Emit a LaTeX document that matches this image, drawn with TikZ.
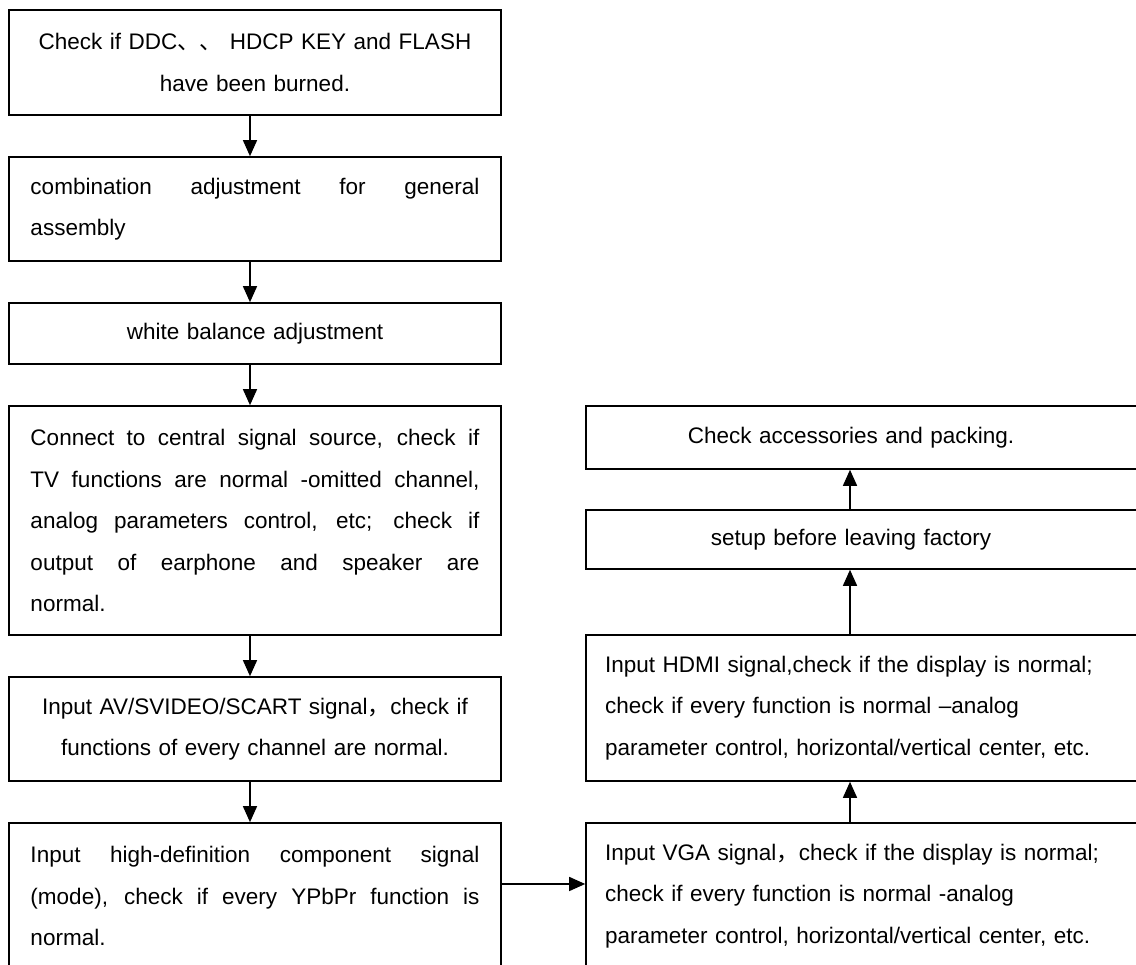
\documentclass[tikz,border=0pt]{standalone}
\usepackage{fontspec}
\setmainfont{Liberation Sans}
\newfontfamily\cjk{Noto Sans CJK SC}
\usetikzlibrary{arrows.meta}
\tikzset{
  txt/.style={font={\fontsize{22.5pt}{41.5pt}\selectfont\tolerance=10000\hbadness=10000\hyphenpenalty=10000\exhyphenpenalty=10000}},
  lbox/.style={txt, draw, line width=1.6pt, text width=449pt, inner xsep=21.5pt, inner ysep=0pt, align=justify},
  rbox/.style={txt, draw, line width=1.6pt, text width=520pt, inner xsep=19pt, inner ysep=0pt, align=left},
  arr/.style={line width=1.4pt, -{Triangle[length=16pt,width=14pt]}}
}
\begin{document}
\begin{tikzpicture}[x=1pt,y=1pt]
\useasboundingbox (0,0) rectangle (1136,965);
\clip (0,0) rectangle (1136,965);
% left column
\node[lbox, align=center, minimum height=105pt] (b1) at (255,902.5)
  {Check if DDC{\cjk 、、} HDCP KEY and FLASH\\have been burned.};
\node[lbox, minimum height=104pt] (b2) at (255,756)
  {combination adjustment for general\linebreak assembly};
\node[lbox, align=center, minimum height=61pt] (b3) at (255,631.5)
  {white balance adjustment};
\node[lbox, minimum height=229pt] (b4) at (255,444.5)
  {Connect to central signal source, check if\linebreak TV functions are normal -omitted channel,\linebreak analog parameters control, etc; check if\linebreak output of earphone and speaker are\linebreak normal.};
\node[lbox, align=center, minimum height=104pt] (b5) at (255,236)
  {Input AV/SVIDEO/SCART signal{\cjk ，}check if\\functions of every channel are normal.};
\node[lbox, minimum height=146pt] (b6) at (255,69)
  {Input high-definition component signal\linebreak (mode), check if every YPbPr function is\linebreak normal.};
% right column
\node[rbox, minimum height=63pt] (r1) at (865,527.5)
  {\makebox[492pt][c]{Check accessories and packing.}};
\node[rbox, minimum height=59pt] (r2) at (865,425.5)
  {\makebox[492pt][c]{setup before leaving factory}};
\node[rbox, minimum height=146pt] (r3) at (865,257)
  {Input HDMI signal,check if the display is normal;\\check if every function is normal --analog\\parameter control, horizontal/vertical center, etc.};
\node[rbox, minimum height=146pt] (r4) at (865,69)
  {Input VGA signal{\cjk ，}check if the display is normal;\\check if every function is normal -analog\\parameter control, horizontal/vertical center, etc.};
% connectors
\draw[arr] ([xshift=-5pt]b1.south) -- ([xshift=-5pt]b2.north);
\draw[arr] ([xshift=-5pt]b2.south) -- ([xshift=-5pt]b3.north);
\draw[arr] ([xshift=-5pt]b3.south) -- ([xshift=-5pt]b4.north);
\draw[arr] ([xshift=-5pt]b4.south) -- ([xshift=-5pt]b5.north);
\draw[arr] ([xshift=-5pt]b5.south) -- ([xshift=-5pt]b6.north);
\draw[arr] ([yshift=12pt]b6.east) -- ([yshift=12pt]r4.west);
\draw[arr] ([xshift=-15pt]r4.north) -- ([xshift=-15pt]r3.south);
\draw[arr] ([xshift=-15pt]r3.north) -- ([xshift=-15pt]r2.south);
\draw[arr] ([xshift=-15pt]r2.north) -- ([xshift=-15pt]r1.south);
\end{tikzpicture}
\end{document}
